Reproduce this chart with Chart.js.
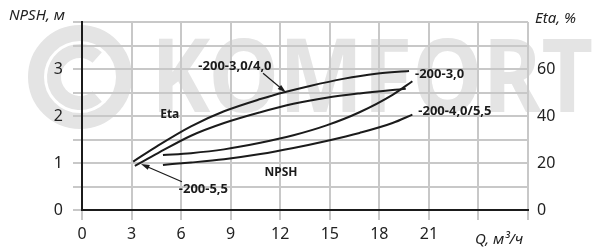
<!DOCTYPE html>
<html>
<head>
<meta charset="utf-8">
<script src="https://cdn.jsdelivr.net/npm/chart.js@4/dist/chart.umd.min.js"></script>
<style>
  html, body { margin: 0; padding: 0; background: #fff; }
  #wrap { width: 602px; height: 251px; }
</style>
</head>
<body>
<div id="wrap"><canvas id="chart"></canvas></div>
<script>
// tick labels
const qLabels = [0, 3, 6, 9, 12, 15, 18, 21];
const npshLabels = [0, 1, 2, 3];
const etaLabels = [0, 20, 40, 60];

// Eta, % (right axis)
const qEta30 = [3.1, 4.6, 6.6, 8.6, 10.8, 12.3, 13.8, 15.8, 17.8, 19.8];
const eta30 = [20.6, 27.4, 35.6, 42.0, 47.2, 50.2, 52.8, 55.8, 58.0, 59.2];
const qEta55 = [3.2, 4.6, 6.6, 8.6, 10.8, 12.8, 14.8, 16.8, 19.6];
const eta55 = [18.8, 24.2, 31.6, 37.0, 41.6, 45.2, 47.8, 49.6, 51.6];

// NPSH, m (left axis)
const qNpsh30 = [4.9, 6.6, 8.6, 10.8, 12.8, 14.8, 16.8, 18.8, 20.0];
const npsh30 = [1.17, 1.21, 1.29, 1.43, 1.59, 1.80, 2.08, 2.45, 2.74];
const qNpsh55 = [4.9, 6.6, 8.6, 10.8, 12.8, 14.8, 16.8, 18.8, 20.0];
const npsh55 = [0.96, 1.01, 1.08, 1.19, 1.32, 1.47, 1.64, 1.85, 2.03];

const ink = "#1b1b1b";
const gridClr = "#c8c8c8";
const markClr = "#e4e4e4";
const tickFont = { family: "'Noto Sans', sans-serif", size: 16 };

const pts = (xs, ys) => xs.map((x, i) => ({ x: x, y: ys[i] }));

const curve = (label, xs, ys, axis) => ({
  label: label,
  data: pts(xs, ys),
  yAxisID: axis,
  borderColor: ink,
  borderWidth: 2,
  pointRadius: 0,
  fill: false,
  cubicInterpolationMode: "monotone",
});

// notes placed in data units (Q, NPSH)
const notes = [
  { text: "-200-3,0/4,0", q: 9.26, v: 3.06, align: "center" },
  { text: "-200-3,0", q: 20.16, v: 2.89, align: "left" },
  { text: "-200-4,0/5,5", q: 20.36, v: 2.09, align: "left" },
  { text: "-200-5,5", q: 7.35, v: 0.43, align: "center" },
];
const arrows = [
  { from: [10.96, 2.91], to: [12.35, 2.5] },
  { from: [6.05, 0.6], to: [3.57, 0.98] },
];

const drawArrow = (ctx, x1, y1, x2, y2) => {
  const a = Math.atan2(y2 - y1, x2 - x1);
  ctx.beginPath();
  ctx.moveTo(x1, y1);
  ctx.lineTo(x2 - 5 * Math.cos(a), y2 - 5 * Math.sin(a));
  ctx.lineWidth = 1.2;
  ctx.strokeStyle = ink;
  ctx.stroke();
  ctx.beginPath();
  ctx.moveTo(x2, y2);
  ctx.lineTo(x2 - 9 * Math.cos(a - 0.3), y2 - 9 * Math.sin(a - 0.3));
  ctx.lineTo(x2 - 9 * Math.cos(a + 0.3), y2 - 9 * Math.sin(a + 0.3));
  ctx.closePath();
  ctx.fillStyle = ink;
  ctx.fill();
};

const decor = {
  id: "decor",
  beforeDraw(chart) {
    const ctx = chart.ctx;
    ctx.save();
    ctx.fillStyle = "#fff";
    ctx.fillRect(0, 0, chart.width, chart.height);
    // watermark
    ctx.strokeStyle = markClr;
    ctx.lineWidth = 16;
    ctx.beginPath();
    ctx.arc(80, 77, 44, 0, Math.PI * 2);
    ctx.stroke();
    ctx.lineWidth = 14;
    ctx.beginPath();
    ctx.arc(80, 77, 26, 0.27 * Math.PI, 1.73 * Math.PI);
    ctx.stroke();
    ctx.fillStyle = markClr;
    ctx.font = "bold 102px 'Noto Sans'";
    ctx.textBaseline = "alphabetic";
    ctx.textAlign = "left";
    ctx.fillText("KOMFORT", 151, 112, 442);
    ctx.restore();
  },
  afterDraw(chart) {
    const ctx = chart.ctx;
    const x = chart.scales.x;
    const y = chart.scales.y;
    ctx.save();
    ctx.fillStyle = "#222";
    ctx.textBaseline = "alphabetic";
    ctx.font = "italic 15px 'Noto Sans'";
    ctx.textAlign = "left";
    ctx.fillText("NPSH, м", 9, 20);
    ctx.fillText("Eta, %", 535, 23);
    ctx.fillText("Q, м³/ч", 475, 244);

    ctx.fillStyle = ink;
    ctx.textBaseline = "middle";
    ctx.font = "bold 13px 'Noto Sans'";
    notes.forEach((n) => {
      ctx.textAlign = n.align;
      ctx.fillText(n.text, x.getPixelForValue(n.q), y.getPixelForValue(n.v));
    });
    ctx.font = "bold 12px 'Noto Sans'";
    ctx.textAlign = "center";
    ctx.fillText("Eta", x.getPixelForValue(5.31), y.getPixelForValue(2.02));
    ctx.fillText("NPSH", x.getPixelForValue(12.05), y.getPixelForValue(0.8));

    arrows.forEach((a) => {
      drawArrow(ctx,
        x.getPixelForValue(a.from[0]), y.getPixelForValue(a.from[1]),
        x.getPixelForValue(a.to[0]), y.getPixelForValue(a.to[1]));
    });
    ctx.restore();
  },
};

new Chart(document.getElementById("chart"), {
  type: "line",
  data: {
    datasets: [
      curve("Eta -200-3,0/4,0", qEta30, eta30, "y1"),
      curve("Eta -200-5,5", qEta55, eta55, "y1"),
      curve("NPSH -200-3,0", qNpsh30, npsh30, "y"),
      curve("NPSH -200-4,0/5,5", qNpsh55, npsh55, "y"),
    ],
  },
  options: {
    responsive: true,
    maintainAspectRatio: false,
    animation: false,
    layout: { padding: { top: 22, left: 0, right: 0, bottom: 0 } },
    plugins: { legend: { display: false }, tooltip: { enabled: false } },
    scales: {
      x: {
        type: "linear",
        min: 0,
        max: 27,
        afterFit: (s) => { s.height = 41; },
        ticks: {
          stepSize: 3,
          autoSkip: false,
          maxRotation: 0,
          padding: 5,
          color: "#222",
          font: tickFont,
          callback: (v) => (qLabels.includes(v) ? String(v) : ""),
        },
        grid: { color: gridClr, lineWidth: 2, tickLength: 10 },
        border: { color: ink, width: 2 },
      },
      y: {
        position: "left",
        min: 0,
        max: 4,
        afterFit: (s) => { s.width = 82; },
        ticks: {
          stepSize: 0.5,
          padding: 10,
          color: "#222",
          font: tickFont,
          callback: (v) => (npshLabels.includes(v) ? String(v) : ""),
        },
        grid: { color: gridClr, lineWidth: 2, tickLength: 9 },
        border: { color: ink, width: 2 },
      },
      y1: {
        position: "right",
        min: 0,
        max: 80,
        afterFit: (s) => { s.width = 74; },
        ticks: {
          stepSize: 20,
          padding: 9,
          color: "#222",
          font: tickFont,
          callback: (v) => (etaLabels.includes(v) ? String(v) : ""),
        },
        grid: { display: false, drawTicks: false },
        border: { display: false },
      },
    },
  },
  plugins: [decor],
});
</script>
</body>
</html>
